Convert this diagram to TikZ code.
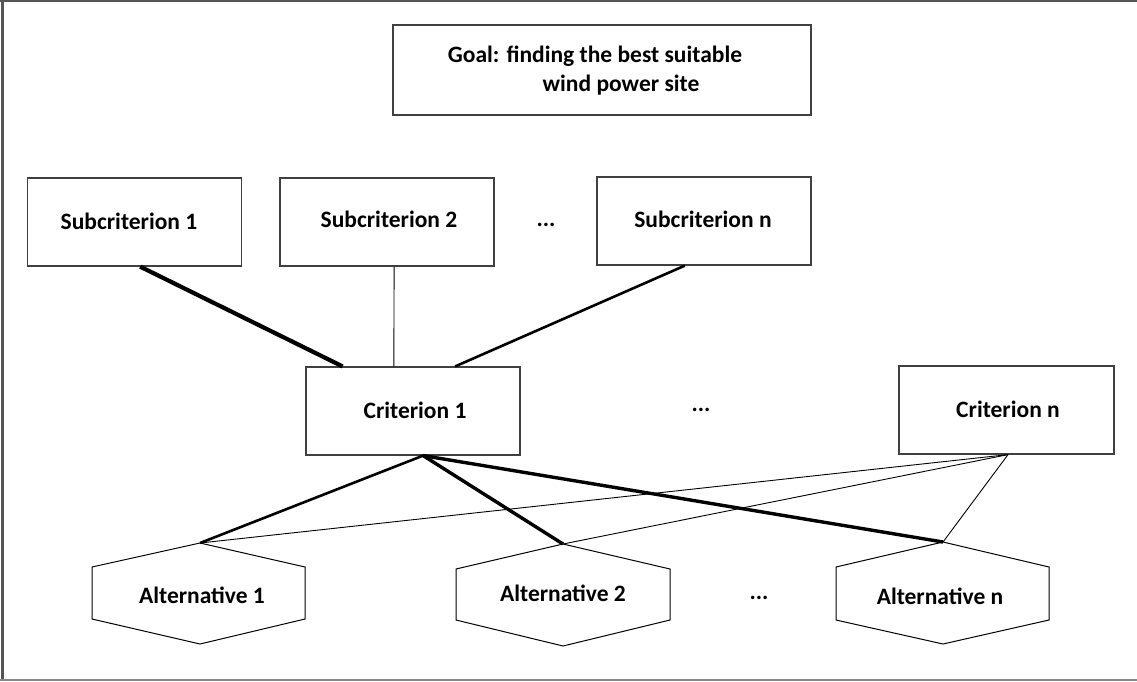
\documentclass[tikz,border=0pt]{standalone}
\usepackage{fontspec}
\setmainfont{Carlito}
\usetikzlibrary{calc}
\definecolor{frame}{HTML}{555555}
\definecolor{edge}{HTML}{404040}
\tikzset{
  box/.style={draw=edge, line width=1.2pt, rectangle, minimum width=214pt, minimum height=88pt, inner sep=0pt},
  lbl/.style={font=\fontsize{23.5}{28}\selectfont\bfseries, inner sep=0pt},
  hexline/.style={draw=black, line width=1pt},
  thinc/.style={line width=0.9pt},
  medc/.style={line width=2.6pt},
  thickc/.style={line width=3.4pt},
  vthick/.style={line width=4.2pt}
}
\begin{document}
\begin{tikzpicture}[x=1pt,y=-1pt]
\useasboundingbox (0,0) rectangle (1137,681);
% frame
\draw[frame, line width=2pt] (0,1) -- (1137,1);
\draw[frame, line width=2.5pt] (2.5,0) -- (2.5,681);
\draw[frame!70, line width=2pt] (0,680) -- (1137,680);
% goal
\node[box, minimum width=418pt, minimum height=90pt] (goal) at (602,70) {};
\node[lbl] (g1) at (595,56) {Goal: finding the best suitable};
\node[lbl] (g2) at (621,85) {wind power site};
% subcriteria
\node[box] (s1) at (134.5,222) {};
\node[lbl] at (129,221) {Subcriterion 1};
\node[box] (s2) at (387,222) {};
\node[lbl] at (389,219) {Subcriterion 2};
\node[lbl] (d1) at (546,225) {...};
\node[box] (sn) at (704,221) {};
\node[lbl] at (703,219) {Subcriterion n};
% criteria
\node[box] (c1) at (413,411) {};
\node[lbl] at (415,410) {Criterion 1};
\node[lbl] (d2) at (701,410) {...};
\node[box, minimum width=215pt] (cn) at (1006.5,410) {};
\node[lbl] at (1008,409) {Criterion n};
% alternatives
\draw[hexline] (200,543) coordinate (a1) -- (305,567) -- (305,619) -- (200,644) -- (92,619) -- (92,567) -- cycle;
\node[lbl] (a1t) at (202,595) {Alternative 1};
\draw[hexline] (563,544) coordinate (a2) -- (670,569) -- (670,620) -- (563,646) -- (456,620) -- (456,569) -- cycle;
\node[lbl] (a2t) at (563,593) {Alternative 2};
\node[lbl] (d3) at (759,598) {...};
\draw[hexline] (943,542) coordinate (an) -- (1049,567) -- (1049,620) -- (943,644) -- (836,620) -- (836,567) -- cycle;
\node[lbl] (ant) at (940,596) {Alternative n};
% connectors subcriteria - criterion 1
\draw[vthick] ($(s1.south west)!0.526!(s1.south east)$) -- ($(c1.north west)!0.173!(c1.north east)$);
\draw[thinc] ($(s2.south west)!0.533!(s2.south east)$) -- ($(c1.north west)!0.411!(c1.north east)$);
\draw[medc] ($(sn.south west)!0.411!(sn.south east)$) -- ($(c1.north west)!0.696!(c1.north east)$);
% connectors criterion 1 - alternatives
\coordinate (c1b) at ($(c1.south west)!0.547!(c1.south east)$);
\draw[medc] (c1b) -- (a1);
\draw[thickc] (c1b) -- (a2);
\draw[thickc] (c1b) -- (an);
% connectors criterion n - alternatives
\coordinate (cnb) at ($(cn.south west)!0.507!(cn.south east)$);
\draw[thinc] (cnb) -- (a1);
\draw[thinc] (cnb) -- (a2);
\draw[thinc] (cnb) -- (an);
\end{tikzpicture}
\end{document}
